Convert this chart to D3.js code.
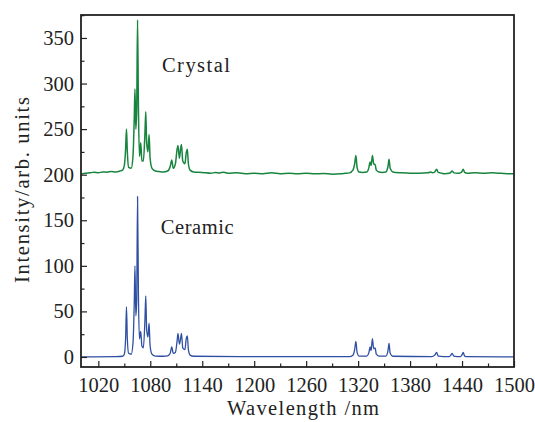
<!DOCTYPE html>
<html>
<head>
<meta charset="utf-8">
<script src="https://cdn.jsdelivr.net/npm/d3@7"></script>
<style>
  html, body { margin: 0; padding: 0; background: #fff; }
  svg { display: block; }
  text { font-family: "Liberation Serif", "DejaVu Serif", serif; fill: #222; }
</style>
</head>
<body>
<svg id="chart" width="535" height="422"></svg>
<script>
// ---- data ----
const xTicks = [1020, 1080, 1140, 1200, 1260, 1320, 1380, 1440, 1500];
const yTicks = [0, 50, 100, 150, 200, 250, 300, 350];
const seriesNames = ["Crystal", "Ceramic"];

// Ceramic spectrum: [wavelength nm, intensity]
const ceramic = [
  [1000,0],[1040,0.3],[1048,0.8],[1050,3],[1051.5,20],[1052.5,55],[1053.5,20],[1055,4],[1058,3],
  [1060,15],[1061.5,60],[1062.3,100],[1063.3,45],[1064.3,60],[1065.3,176],[1066.3,70],[1067.5,20],
  [1069,28],[1070.3,12],[1072,10],[1073.8,40],[1074.8,67],[1075.8,30],[1077.3,22],[1078.6,37],
  [1079.8,12],[1082,3],[1086,1],[1095,0.8],[1100,1.2],[1103,4],[1104.8,11],[1106.5,4],[1109,5],
  [1111,18],[1112,26],[1113.6,14],[1115,20],[1116,26],[1117.5,10],[1120,8],[1121.5,20],[1122.8,23],
  [1124,8],[1126,2],[1130,0.8],[1200,0.3],[1310,0.3],[1314,2],[1316,8],[1317.4,17],[1318.8,5],
  [1321,1],[1330,1],[1332.5,5],[1333.8,11],[1335,7],[1336.5,20],[1338,9],[1339.6,10],[1341,3],
  [1344,1],[1352,1],[1354.5,7],[1355.7,15],[1357,4],[1360,0.8],[1405,0.3],[1408.5,2],[1410.6,5],
  [1412.5,1],[1425,0.3],[1427,2],[1428.6,4],[1430.5,1],[1438,0.3],[1440,2.5],[1441.3,5],[1443,1],
  [1446,0.3],[1500,0.2]
];

// Crystal spectrum: [wavelength nm, intensity]
const crystal = [
  [1000,200.5],[1005,201.5],[1010,202],[1015,202.6],[1020,202],[1025,203],[1030,202.8],[1035,203.6],
  [1040,203],[1045,204],[1048,205],[1050,210],[1051.5,228],[1052.5,250],[1053.5,225],[1055,208],
  [1058,207],[1060,220],[1061.5,262],[1062.3,294],[1063.3,250],[1064.3,270],[1065.3,370],[1066.3,275],
  [1067.5,220],[1069,235],[1070.3,215],[1072,215],[1073.8,245],[1074.8,269],[1075.8,235],[1077.3,225],
  [1078.6,244],[1079.8,218],[1082,207],[1086,204],[1090,203.5],[1095,203],[1100,204],[1103,209],
  [1104.8,216],[1106.5,207],[1109,212],[1111,228],[1112,232],[1113.6,218],[1115,228],[1116,233],
  [1117.5,215],[1120,212],[1121.5,224],[1122.8,228],[1124,212],[1126,205],[1130,203],[1140,202.5],
  [1150,201.5],[1155,202.5],[1160,201.8],[1165,202.8],[1170,201.5],[1180,202],[1190,201],[1200,201.5],
  [1210,201],[1220,202],[1230,201],[1240,201.5],[1250,201],[1260,201.5],[1270,201],[1280,201.2],
  [1290,200.6],[1300,201],[1305,201.5],[1310,202],[1314,205],[1316,212],[1317.4,221],[1318.8,208],
  [1321,203],[1325,202.5],[1330,203],[1332.5,208],[1333.8,214],[1335,210],[1336.5,221],[1338,212],
  [1339.6,211],[1341,205],[1344,203],[1348,202.5],[1352,203],[1354.5,209],[1355.7,217],[1357,207],
  [1360,203],[1370,202],[1380,201.5],[1390,201.6],[1400,202],[1403,202.6],[1404,203],[1406,202],
  [1408.5,203],[1410.6,206],[1412.5,202.5],[1415,202],[1420,201],[1425,201.5],[1427,202.5],
  [1428.6,204],[1430.5,202],[1435,201.5],[1438,202],[1440,203.5],[1441.3,206],[1443,202.5],
  [1446,201.5],[1455,202],[1465,201.5],[1475,202],[1485,201.5],[1495,201],[1500,201]
];

// ---- layout ----
const svg = d3.select("#chart");
const margin = {left: 81, right: 21, top: 15, bottom: 55};
const W = 535, H = 422;
const FS = 20.5;
const x = d3.scaleLinear().domain([1000, 1500]).range([margin.left, W - margin.right]);
const y = d3.scaleLinear().domain([-11, 375.2]).range([H - margin.bottom, margin.top]);

const line = d3.line().x(d => x(d[0])).y(d => y(d[1])).curve(d3.curveMonotoneX);

svg.append("clipPath").attr("id", "clip").append("rect")
  .attr("x", margin.left).attr("y", margin.top)
  .attr("width", W - margin.left - margin.right).attr("height", H - margin.top - margin.bottom);

const g = svg.append("g").attr("clip-path", "url(#clip)");
g.append("path").datum(ceramic).attr("d", line)
  .attr("fill", "none").attr("stroke", "#2f4fa3").attr("stroke-width", 1.3).attr("stroke-linejoin", "round");
g.append("path").datum(crystal).attr("d", line)
  .attr("fill", "none").attr("stroke", "#18853f").attr("stroke-width", 1.5).attr("stroke-linejoin", "round");

// axes with inward ticks
const xMinor = d3.range(1050, 1500, 60);
const yMinor = d3.range(25, 376, 50);

const xAxis = svg.append("g").attr("transform", `translate(0,${H - margin.bottom})`);
xAxis.call(d3.axisBottom(x).tickValues(xTicks).tickSizeInner(-6).tickSizeOuter(0).tickPadding(10).tickFormat(d3.format("d")));
xAxis.append("g").call(d3.axisBottom(x).tickValues(xMinor).tickSizeInner(-3.5).tickSizeOuter(0).tickFormat(""));
const yAxis = svg.append("g").attr("transform", `translate(${margin.left},0)`);
yAxis.call(d3.axisLeft(y).tickValues(yTicks).tickSizeInner(-6).tickSizeOuter(0).tickPadding(7).tickFormat(d3.format("d")));
yAxis.append("g").call(d3.axisLeft(y).tickValues(yMinor).tickSizeInner(-3.5).tickSizeOuter(0).tickFormat(""));

svg.selectAll(".domain").remove();
svg.selectAll(".tick line").attr("stroke", "#222").attr("stroke-width", 1.2);
svg.selectAll(".tick text").attr("font-size", FS).attr("fill", "#222")
  .attr("font-family", '"Liberation Serif", "DejaVu Serif", serif');

// frame
svg.append("rect")
  .attr("x", margin.left).attr("y", margin.top)
  .attr("width", W - margin.left - margin.right).attr("height", H - margin.top - margin.bottom)
  .attr("fill", "none").attr("stroke", "#222").attr("stroke-width", 1.8);

// series labels
svg.append("text").attr("x", x(1093.5)).attr("y", y(313)).attr("font-size", FS)
  .attr("textLength", 68).attr("lengthAdjust", "spacing").text(seriesNames[0]);
svg.append("text").attr("x", x(1092)).attr("y", y(135)).attr("font-size", FS)
  .attr("textLength", 73).attr("lengthAdjust", "spacing").text(seriesNames[1]);

// axis titles
svg.append("text").attr("x", 303).attr("y", 415)
  .attr("text-anchor", "middle").attr("font-size", FS)
  .attr("textLength", 152).attr("lengthAdjust", "spacing").text("Wavelength /nm");
svg.append("text").attr("transform", `translate(29,190) rotate(-90)`)
  .attr("text-anchor", "middle").attr("font-size", FS)
  .attr("textLength", 186).attr("lengthAdjust", "spacing").text("Intensity/arb. units");
</script>
</body>
</html>
